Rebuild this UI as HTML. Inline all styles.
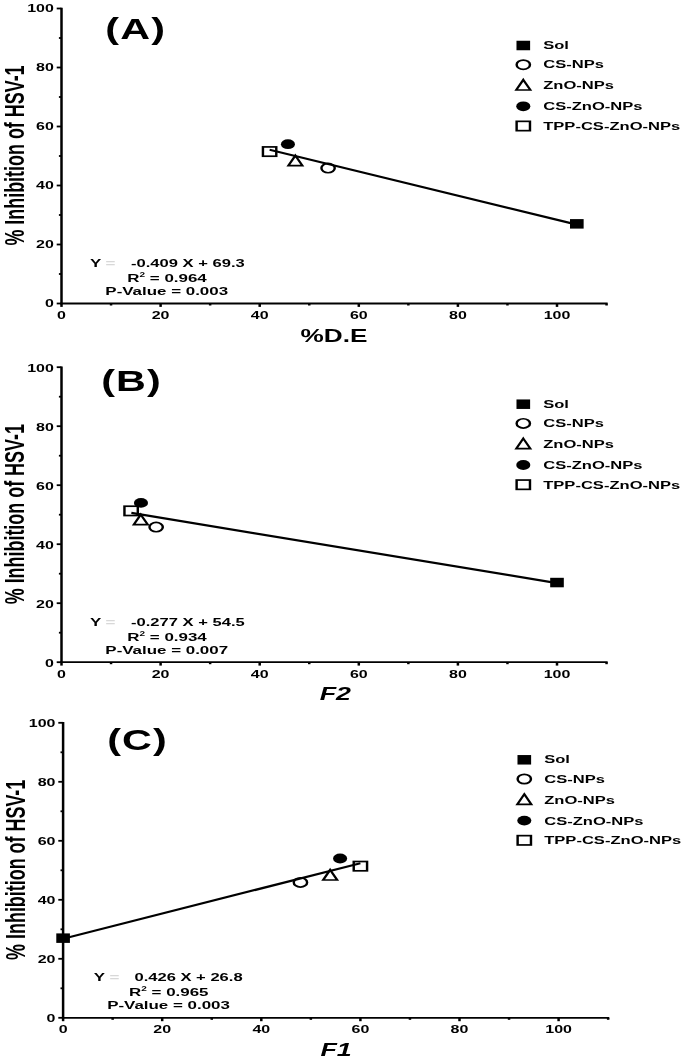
<!DOCTYPE html>
<html><head><meta charset="utf-8"><title>Figure</title>
<style>
html,body{margin:0;padding:0;background:#fff;}
body{width:685px;height:1060px;overflow:hidden;font-family:"Liberation Sans",sans-serif;}
svg{display:block;position:absolute;left:0;top:0;filter:blur(0.45px);}
</style></head>
<body>
<svg width="685" height="1060" viewBox="0 0 685 1060">
<rect width="685" height="1060" fill="#fff"/>
<line x1="61.50" y1="7.70" x2="61.50" y2="304.30" stroke="#000" stroke-width="2.5"/>
<line x1="60.40" y1="303.50" x2="607.65" y2="303.50" stroke="#000" stroke-width="1.8"/>
<line x1="56.70" y1="303.50" x2="61.50" y2="303.50" stroke="#000" stroke-width="1.8"/>
<text transform="translate(53.90,307.40) scale(1.435,1)" font-family="Liberation Sans, sans-serif" font-size="11.15" font-weight="bold" text-anchor="end" fill="#000" >0</text>
<line x1="58.90" y1="274.00" x2="61.50" y2="274.00" stroke="#000" stroke-width="1.8"/>
<line x1="56.70" y1="244.50" x2="61.50" y2="244.50" stroke="#000" stroke-width="1.8"/>
<text transform="translate(53.90,248.40) scale(1.435,1)" font-family="Liberation Sans, sans-serif" font-size="11.15" font-weight="bold" text-anchor="end" fill="#000" >20</text>
<line x1="58.90" y1="215.00" x2="61.50" y2="215.00" stroke="#000" stroke-width="1.8"/>
<line x1="56.70" y1="185.50" x2="61.50" y2="185.50" stroke="#000" stroke-width="1.8"/>
<text transform="translate(53.90,189.40) scale(1.435,1)" font-family="Liberation Sans, sans-serif" font-size="11.15" font-weight="bold" text-anchor="end" fill="#000" >40</text>
<line x1="58.90" y1="156.00" x2="61.50" y2="156.00" stroke="#000" stroke-width="1.8"/>
<line x1="56.70" y1="126.50" x2="61.50" y2="126.50" stroke="#000" stroke-width="1.8"/>
<text transform="translate(53.90,130.40) scale(1.435,1)" font-family="Liberation Sans, sans-serif" font-size="11.15" font-weight="bold" text-anchor="end" fill="#000" >60</text>
<line x1="58.90" y1="97.00" x2="61.50" y2="97.00" stroke="#000" stroke-width="1.8"/>
<line x1="56.70" y1="67.50" x2="61.50" y2="67.50" stroke="#000" stroke-width="1.8"/>
<text transform="translate(53.90,71.40) scale(1.435,1)" font-family="Liberation Sans, sans-serif" font-size="11.15" font-weight="bold" text-anchor="end" fill="#000" >80</text>
<line x1="58.90" y1="38.00" x2="61.50" y2="38.00" stroke="#000" stroke-width="1.8"/>
<line x1="56.70" y1="8.50" x2="61.50" y2="8.50" stroke="#000" stroke-width="1.8"/>
<text transform="translate(53.90,12.40) scale(1.435,1)" font-family="Liberation Sans, sans-serif" font-size="11.15" font-weight="bold" text-anchor="end" fill="#000" >100</text>
<line x1="61.50" y1="303.50" x2="61.50" y2="306.90" stroke="#000" stroke-width="2.5"/>
<text transform="translate(61.50,318.50) scale(1.435,1)" font-family="Liberation Sans, sans-serif" font-size="11.15" font-weight="bold" text-anchor="middle" fill="#000" >0</text>
<line x1="111.05" y1="303.50" x2="111.05" y2="305.50" stroke="#000" stroke-width="2.5"/>
<line x1="160.60" y1="303.50" x2="160.60" y2="306.90" stroke="#000" stroke-width="2.5"/>
<text transform="translate(160.60,318.50) scale(1.435,1)" font-family="Liberation Sans, sans-serif" font-size="11.15" font-weight="bold" text-anchor="middle" fill="#000" >20</text>
<line x1="210.15" y1="303.50" x2="210.15" y2="305.50" stroke="#000" stroke-width="2.5"/>
<line x1="259.70" y1="303.50" x2="259.70" y2="306.90" stroke="#000" stroke-width="2.5"/>
<text transform="translate(259.70,318.50) scale(1.435,1)" font-family="Liberation Sans, sans-serif" font-size="11.15" font-weight="bold" text-anchor="middle" fill="#000" >40</text>
<line x1="309.25" y1="303.50" x2="309.25" y2="305.50" stroke="#000" stroke-width="2.5"/>
<line x1="358.80" y1="303.50" x2="358.80" y2="306.90" stroke="#000" stroke-width="2.5"/>
<text transform="translate(358.80,318.50) scale(1.435,1)" font-family="Liberation Sans, sans-serif" font-size="11.15" font-weight="bold" text-anchor="middle" fill="#000" >60</text>
<line x1="408.35" y1="303.50" x2="408.35" y2="305.50" stroke="#000" stroke-width="2.5"/>
<line x1="457.90" y1="303.50" x2="457.90" y2="306.90" stroke="#000" stroke-width="2.5"/>
<text transform="translate(457.90,318.50) scale(1.435,1)" font-family="Liberation Sans, sans-serif" font-size="11.15" font-weight="bold" text-anchor="middle" fill="#000" >80</text>
<line x1="507.45" y1="303.50" x2="507.45" y2="305.50" stroke="#000" stroke-width="2.5"/>
<line x1="557.00" y1="303.50" x2="557.00" y2="306.90" stroke="#000" stroke-width="2.5"/>
<text transform="translate(557.00,318.50) scale(1.435,1)" font-family="Liberation Sans, sans-serif" font-size="11.15" font-weight="bold" text-anchor="middle" fill="#000" >100</text>
<line x1="606.55" y1="303.50" x2="606.55" y2="305.50" stroke="#000" stroke-width="2.5"/>
<text transform="translate(334.02,342.00) scale(1.435,1)" font-family="Liberation Sans, sans-serif" font-size="18.25" font-weight="bold" text-anchor="middle" fill="#000" >%D.E</text>
<text transform="translate(135.70,38.70) scale(1.435,1)" font-family="Liberation Sans, sans-serif" font-size="28.8" font-weight="bold" text-anchor="middle" fill="#000" letter-spacing="0.8">(A)</text>
<text transform="translate(24.30,155.50) scale(1.53,1) rotate(-90)" font-family="Liberation Sans, sans-serif" font-size="17.93" font-weight="bold" text-anchor="middle" fill="#000">% Inhibition of HSV-1</text>
<text transform="translate(90.00,266.90) scale(1.435,1)" font-family="Liberation Sans, sans-serif" font-size="11.8" font-weight="bold" text-anchor="start" fill="#000" >Y</text>
<text transform="translate(105.50,266.90) scale(1.435,1)" font-family="Liberation Sans, sans-serif" font-size="11.8" font-weight="bold" text-anchor="start" fill="#d8d8d8" >=</text>
<text transform="translate(244.70,266.90) scale(1.435,1)" font-family="Liberation Sans, sans-serif" font-size="11.55" font-weight="bold" text-anchor="end" fill="#000" >-0.409 X + 69.3</text>
<text transform="translate(167.00,281.50) scale(1.435,1)" font-family="Liberation Sans, sans-serif" font-size="11.8" font-weight="bold" text-anchor="middle" fill="#000" >R<tspan font-size="7.0" dy="-4.8">2</tspan><tspan dy="4.8"> = 0.964</tspan></text>
<text transform="translate(166.70,295.00) scale(1.435,1)" font-family="Liberation Sans, sans-serif" font-size="11.8" font-weight="bold" text-anchor="middle" fill="#000" >P-Value = 0.003</text>
<g transform="translate(523.30,45.50) scale(1.435,1)"><rect x="-4.75" y="-4.75" width="9.5" height="9.5" fill="#000"/></g>
<text transform="translate(543.20,48.80) scale(1.435,1)" font-family="Liberation Sans, sans-serif" font-size="11.55" font-weight="bold" text-anchor="start" fill="#000" >Sol</text>
<g transform="translate(523.30,64.70) scale(1.435,1)"><circle r="4.65" fill="#fff" stroke="#000" stroke-width="1.7"/></g>
<text transform="translate(543.20,68.40) scale(1.435,1)" font-family="Liberation Sans, sans-serif" font-size="11.55" font-weight="bold" text-anchor="start" fill="#000" >CS-NPs</text>
<g transform="translate(523.30,85.00) scale(1.435,1)"><path d="M0,-5.2 L4.9,5.0 L-4.9,5.0 Z" fill="#fff" stroke="#000" stroke-width="1.7" stroke-linejoin="miter"/></g>
<text transform="translate(543.20,89.30) scale(1.435,1)" font-family="Liberation Sans, sans-serif" font-size="11.55" font-weight="bold" text-anchor="start" fill="#000" >ZnO-NPs</text>
<g transform="translate(523.30,106.30) scale(1.435,1)"><circle r="4.9" fill="#000"/></g>
<text transform="translate(543.20,110.30) scale(1.435,1)" font-family="Liberation Sans, sans-serif" font-size="11.55" font-weight="bold" text-anchor="start" fill="#000" >CS-ZnO-NPs</text>
<g transform="translate(523.30,126.00) scale(1.435,1)"><rect x="-4.65" y="-4.65" width="9.3" height="9.3" fill="#fff" stroke="#000" stroke-width="1.7"/></g>
<text transform="translate(543.20,129.80) scale(1.435,1)" font-family="Liberation Sans, sans-serif" font-size="11.55" font-weight="bold" text-anchor="start" fill="#000" >TPP-CS-ZnO-NPs</text>
<g transform="translate(269.61,151.57) scale(1.435,1)"><rect x="-4.65" y="-4.65" width="9.3" height="9.3" fill="#fff" stroke="#000" stroke-width="1.7"/></g>
<g transform="translate(287.94,144.20) scale(1.435,1)"><circle r="4.9" fill="#000"/></g>
<g transform="translate(295.38,160.72) scale(1.435,1)"><path d="M0,-5.2 L4.9,5.0 L-4.9,5.0 Z" fill="#fff" stroke="#000" stroke-width="1.7" stroke-linejoin="miter"/></g>
<g transform="translate(328.08,168.09) scale(1.435,1)"><circle r="4.65" fill="#fff" stroke="#000" stroke-width="1.7"/></g>
<g transform="translate(576.82,223.85) scale(1.435,1)"><rect x="-4.75" y="-4.75" width="9.5" height="9.5" fill="#000"/></g>
<line x1="269.61" y1="149.80" x2="576.82" y2="224.56" stroke="#000" stroke-width="2.2" stroke-linecap="butt"/>
<line x1="61.50" y1="366.40" x2="61.50" y2="663.00" stroke="#000" stroke-width="2.5"/>
<line x1="60.40" y1="662.20" x2="607.65" y2="662.20" stroke="#000" stroke-width="1.8"/>
<line x1="56.70" y1="662.20" x2="61.50" y2="662.20" stroke="#000" stroke-width="1.8"/>
<text transform="translate(53.90,666.60) scale(1.435,1)" font-family="Liberation Sans, sans-serif" font-size="11.15" font-weight="bold" text-anchor="end" fill="#000" >0</text>
<line x1="58.90" y1="632.70" x2="61.50" y2="632.70" stroke="#000" stroke-width="1.8"/>
<line x1="56.70" y1="603.20" x2="61.50" y2="603.20" stroke="#000" stroke-width="1.8"/>
<text transform="translate(53.90,607.60) scale(1.435,1)" font-family="Liberation Sans, sans-serif" font-size="11.15" font-weight="bold" text-anchor="end" fill="#000" >20</text>
<line x1="58.90" y1="573.70" x2="61.50" y2="573.70" stroke="#000" stroke-width="1.8"/>
<line x1="56.70" y1="544.20" x2="61.50" y2="544.20" stroke="#000" stroke-width="1.8"/>
<text transform="translate(53.90,548.60) scale(1.435,1)" font-family="Liberation Sans, sans-serif" font-size="11.15" font-weight="bold" text-anchor="end" fill="#000" >40</text>
<line x1="58.90" y1="514.70" x2="61.50" y2="514.70" stroke="#000" stroke-width="1.8"/>
<line x1="56.70" y1="485.20" x2="61.50" y2="485.20" stroke="#000" stroke-width="1.8"/>
<text transform="translate(53.90,489.60) scale(1.435,1)" font-family="Liberation Sans, sans-serif" font-size="11.15" font-weight="bold" text-anchor="end" fill="#000" >60</text>
<line x1="58.90" y1="455.70" x2="61.50" y2="455.70" stroke="#000" stroke-width="1.8"/>
<line x1="56.70" y1="426.20" x2="61.50" y2="426.20" stroke="#000" stroke-width="1.8"/>
<text transform="translate(53.90,430.60) scale(1.435,1)" font-family="Liberation Sans, sans-serif" font-size="11.15" font-weight="bold" text-anchor="end" fill="#000" >80</text>
<line x1="58.90" y1="396.70" x2="61.50" y2="396.70" stroke="#000" stroke-width="1.8"/>
<line x1="56.70" y1="367.20" x2="61.50" y2="367.20" stroke="#000" stroke-width="1.8"/>
<text transform="translate(53.90,371.60) scale(1.435,1)" font-family="Liberation Sans, sans-serif" font-size="11.15" font-weight="bold" text-anchor="end" fill="#000" >100</text>
<line x1="61.50" y1="662.20" x2="61.50" y2="665.60" stroke="#000" stroke-width="2.5"/>
<text transform="translate(61.50,677.70) scale(1.435,1)" font-family="Liberation Sans, sans-serif" font-size="11.15" font-weight="bold" text-anchor="middle" fill="#000" >0</text>
<line x1="111.05" y1="662.20" x2="111.05" y2="664.20" stroke="#000" stroke-width="2.5"/>
<line x1="160.60" y1="662.20" x2="160.60" y2="665.60" stroke="#000" stroke-width="2.5"/>
<text transform="translate(160.60,677.70) scale(1.435,1)" font-family="Liberation Sans, sans-serif" font-size="11.15" font-weight="bold" text-anchor="middle" fill="#000" >20</text>
<line x1="210.15" y1="662.20" x2="210.15" y2="664.20" stroke="#000" stroke-width="2.5"/>
<line x1="259.70" y1="662.20" x2="259.70" y2="665.60" stroke="#000" stroke-width="2.5"/>
<text transform="translate(259.70,677.70) scale(1.435,1)" font-family="Liberation Sans, sans-serif" font-size="11.15" font-weight="bold" text-anchor="middle" fill="#000" >40</text>
<line x1="309.25" y1="662.20" x2="309.25" y2="664.20" stroke="#000" stroke-width="2.5"/>
<line x1="358.80" y1="662.20" x2="358.80" y2="665.60" stroke="#000" stroke-width="2.5"/>
<text transform="translate(358.80,677.70) scale(1.435,1)" font-family="Liberation Sans, sans-serif" font-size="11.15" font-weight="bold" text-anchor="middle" fill="#000" >60</text>
<line x1="408.35" y1="662.20" x2="408.35" y2="664.20" stroke="#000" stroke-width="2.5"/>
<line x1="457.90" y1="662.20" x2="457.90" y2="665.60" stroke="#000" stroke-width="2.5"/>
<text transform="translate(457.90,677.70) scale(1.435,1)" font-family="Liberation Sans, sans-serif" font-size="11.15" font-weight="bold" text-anchor="middle" fill="#000" >80</text>
<line x1="507.45" y1="662.20" x2="507.45" y2="664.20" stroke="#000" stroke-width="2.5"/>
<line x1="557.00" y1="662.20" x2="557.00" y2="665.60" stroke="#000" stroke-width="2.5"/>
<text transform="translate(557.00,677.70) scale(1.435,1)" font-family="Liberation Sans, sans-serif" font-size="11.15" font-weight="bold" text-anchor="middle" fill="#000" >100</text>
<line x1="606.55" y1="662.20" x2="606.55" y2="664.20" stroke="#000" stroke-width="2.5"/>
<text transform="translate(335.32,699.80) scale(1.435,1)" font-family="Liberation Sans, sans-serif" font-size="18.7" font-weight="bold" text-anchor="middle" fill="#000" font-style="italic">F2</text>
<text transform="translate(131.60,391.00) scale(1.435,1)" font-family="Liberation Sans, sans-serif" font-size="28.8" font-weight="bold" text-anchor="middle" fill="#000" letter-spacing="0.8">(B)</text>
<text transform="translate(24.30,514.20) scale(1.53,1) rotate(-90)" font-family="Liberation Sans, sans-serif" font-size="17.93" font-weight="bold" text-anchor="middle" fill="#000">% Inhibition of HSV-1</text>
<text transform="translate(90.00,626.10) scale(1.435,1)" font-family="Liberation Sans, sans-serif" font-size="11.8" font-weight="bold" text-anchor="start" fill="#000" >Y</text>
<text transform="translate(105.50,626.10) scale(1.435,1)" font-family="Liberation Sans, sans-serif" font-size="11.8" font-weight="bold" text-anchor="start" fill="#d8d8d8" >=</text>
<text transform="translate(244.70,626.10) scale(1.435,1)" font-family="Liberation Sans, sans-serif" font-size="11.55" font-weight="bold" text-anchor="end" fill="#000" >-0.277 X + 54.5</text>
<text transform="translate(167.00,640.70) scale(1.435,1)" font-family="Liberation Sans, sans-serif" font-size="11.8" font-weight="bold" text-anchor="middle" fill="#000" >R<tspan font-size="7.0" dy="-4.8">2</tspan><tspan dy="4.8"> = 0.934</tspan></text>
<text transform="translate(166.70,654.20) scale(1.435,1)" font-family="Liberation Sans, sans-serif" font-size="11.8" font-weight="bold" text-anchor="middle" fill="#000" >P-Value = 0.007</text>
<g transform="translate(523.30,404.20) scale(1.435,1)"><rect x="-4.75" y="-4.75" width="9.5" height="9.5" fill="#000"/></g>
<text transform="translate(543.20,407.50) scale(1.435,1)" font-family="Liberation Sans, sans-serif" font-size="11.55" font-weight="bold" text-anchor="start" fill="#000" >Sol</text>
<g transform="translate(523.30,423.40) scale(1.435,1)"><circle r="4.65" fill="#fff" stroke="#000" stroke-width="1.7"/></g>
<text transform="translate(543.20,427.10) scale(1.435,1)" font-family="Liberation Sans, sans-serif" font-size="11.55" font-weight="bold" text-anchor="start" fill="#000" >CS-NPs</text>
<g transform="translate(523.30,443.70) scale(1.435,1)"><path d="M0,-5.2 L4.9,5.0 L-4.9,5.0 Z" fill="#fff" stroke="#000" stroke-width="1.7" stroke-linejoin="miter"/></g>
<text transform="translate(543.20,448.00) scale(1.435,1)" font-family="Liberation Sans, sans-serif" font-size="11.55" font-weight="bold" text-anchor="start" fill="#000" >ZnO-NPs</text>
<g transform="translate(523.30,465.00) scale(1.435,1)"><circle r="4.9" fill="#000"/></g>
<text transform="translate(543.20,469.00) scale(1.435,1)" font-family="Liberation Sans, sans-serif" font-size="11.55" font-weight="bold" text-anchor="start" fill="#000" >CS-ZnO-NPs</text>
<g transform="translate(523.30,484.70) scale(1.435,1)"><rect x="-4.65" y="-4.65" width="9.3" height="9.3" fill="#fff" stroke="#000" stroke-width="1.7"/></g>
<text transform="translate(543.20,488.50) scale(1.435,1)" font-family="Liberation Sans, sans-serif" font-size="11.55" font-weight="bold" text-anchor="start" fill="#000" >TPP-CS-ZnO-NPs</text>
<g transform="translate(131.12,510.87) scale(1.435,1)"><rect x="-4.65" y="-4.65" width="9.3" height="9.3" fill="#fff" stroke="#000" stroke-width="1.7"/></g>
<g transform="translate(140.98,502.90) scale(1.435,1)"><circle r="4.9" fill="#000"/></g>
<g transform="translate(140.78,519.72) scale(1.435,1)"><path d="M0,-5.2 L4.9,5.0 L-4.9,5.0 Z" fill="#fff" stroke="#000" stroke-width="1.7" stroke-linejoin="miter"/></g>
<g transform="translate(156.14,527.09) scale(1.435,1)"><circle r="4.65" fill="#fff" stroke="#000" stroke-width="1.7"/></g>
<g transform="translate(557.00,582.55) scale(1.435,1)"><rect x="-4.75" y="-4.75" width="9.5" height="9.5" fill="#000"/></g>
<line x1="131.37" y1="512.93" x2="557.00" y2="583.14" stroke="#000" stroke-width="2.2" stroke-linecap="butt"/>
<line x1="63.10" y1="722.00" x2="63.10" y2="1018.60" stroke="#000" stroke-width="2.5"/>
<line x1="62.00" y1="1017.80" x2="609.25" y2="1017.80" stroke="#000" stroke-width="1.8"/>
<line x1="58.30" y1="1017.80" x2="63.10" y2="1017.80" stroke="#000" stroke-width="1.8"/>
<text transform="translate(55.50,1021.70) scale(1.435,1)" font-family="Liberation Sans, sans-serif" font-size="11.15" font-weight="bold" text-anchor="end" fill="#000" >0</text>
<line x1="60.50" y1="988.30" x2="63.10" y2="988.30" stroke="#000" stroke-width="1.8"/>
<line x1="58.30" y1="958.80" x2="63.10" y2="958.80" stroke="#000" stroke-width="1.8"/>
<text transform="translate(55.50,962.70) scale(1.435,1)" font-family="Liberation Sans, sans-serif" font-size="11.15" font-weight="bold" text-anchor="end" fill="#000" >20</text>
<line x1="60.50" y1="929.30" x2="63.10" y2="929.30" stroke="#000" stroke-width="1.8"/>
<line x1="58.30" y1="899.80" x2="63.10" y2="899.80" stroke="#000" stroke-width="1.8"/>
<text transform="translate(55.50,903.70) scale(1.435,1)" font-family="Liberation Sans, sans-serif" font-size="11.15" font-weight="bold" text-anchor="end" fill="#000" >40</text>
<line x1="60.50" y1="870.30" x2="63.10" y2="870.30" stroke="#000" stroke-width="1.8"/>
<line x1="58.30" y1="840.80" x2="63.10" y2="840.80" stroke="#000" stroke-width="1.8"/>
<text transform="translate(55.50,844.70) scale(1.435,1)" font-family="Liberation Sans, sans-serif" font-size="11.15" font-weight="bold" text-anchor="end" fill="#000" >60</text>
<line x1="60.50" y1="811.30" x2="63.10" y2="811.30" stroke="#000" stroke-width="1.8"/>
<line x1="58.30" y1="781.80" x2="63.10" y2="781.80" stroke="#000" stroke-width="1.8"/>
<text transform="translate(55.50,785.70) scale(1.435,1)" font-family="Liberation Sans, sans-serif" font-size="11.15" font-weight="bold" text-anchor="end" fill="#000" >80</text>
<line x1="60.50" y1="752.30" x2="63.10" y2="752.30" stroke="#000" stroke-width="1.8"/>
<line x1="58.30" y1="722.80" x2="63.10" y2="722.80" stroke="#000" stroke-width="1.8"/>
<text transform="translate(55.50,726.70) scale(1.435,1)" font-family="Liberation Sans, sans-serif" font-size="11.15" font-weight="bold" text-anchor="end" fill="#000" >100</text>
<line x1="63.10" y1="1017.80" x2="63.10" y2="1021.20" stroke="#000" stroke-width="2.5"/>
<text transform="translate(63.10,1032.80) scale(1.435,1)" font-family="Liberation Sans, sans-serif" font-size="11.15" font-weight="bold" text-anchor="middle" fill="#000" >0</text>
<line x1="112.65" y1="1017.80" x2="112.65" y2="1019.80" stroke="#000" stroke-width="2.5"/>
<line x1="162.20" y1="1017.80" x2="162.20" y2="1021.20" stroke="#000" stroke-width="2.5"/>
<text transform="translate(162.20,1032.80) scale(1.435,1)" font-family="Liberation Sans, sans-serif" font-size="11.15" font-weight="bold" text-anchor="middle" fill="#000" >20</text>
<line x1="211.75" y1="1017.80" x2="211.75" y2="1019.80" stroke="#000" stroke-width="2.5"/>
<line x1="261.30" y1="1017.80" x2="261.30" y2="1021.20" stroke="#000" stroke-width="2.5"/>
<text transform="translate(261.30,1032.80) scale(1.435,1)" font-family="Liberation Sans, sans-serif" font-size="11.15" font-weight="bold" text-anchor="middle" fill="#000" >40</text>
<line x1="310.85" y1="1017.80" x2="310.85" y2="1019.80" stroke="#000" stroke-width="2.5"/>
<line x1="360.40" y1="1017.80" x2="360.40" y2="1021.20" stroke="#000" stroke-width="2.5"/>
<text transform="translate(360.40,1032.80) scale(1.435,1)" font-family="Liberation Sans, sans-serif" font-size="11.15" font-weight="bold" text-anchor="middle" fill="#000" >60</text>
<line x1="409.95" y1="1017.80" x2="409.95" y2="1019.80" stroke="#000" stroke-width="2.5"/>
<line x1="459.50" y1="1017.80" x2="459.50" y2="1021.20" stroke="#000" stroke-width="2.5"/>
<text transform="translate(459.50,1032.80) scale(1.435,1)" font-family="Liberation Sans, sans-serif" font-size="11.15" font-weight="bold" text-anchor="middle" fill="#000" >80</text>
<line x1="509.05" y1="1017.80" x2="509.05" y2="1019.80" stroke="#000" stroke-width="2.5"/>
<line x1="558.60" y1="1017.80" x2="558.60" y2="1021.20" stroke="#000" stroke-width="2.5"/>
<text transform="translate(558.60,1032.80) scale(1.435,1)" font-family="Liberation Sans, sans-serif" font-size="11.15" font-weight="bold" text-anchor="middle" fill="#000" >100</text>
<line x1="608.15" y1="1017.80" x2="608.15" y2="1019.80" stroke="#000" stroke-width="2.5"/>
<text transform="translate(336.12,1055.80) scale(1.435,1)" font-family="Liberation Sans, sans-serif" font-size="18.7" font-weight="bold" text-anchor="middle" fill="#000" font-style="italic">F1</text>
<text transform="translate(137.60,750.00) scale(1.435,1)" font-family="Liberation Sans, sans-serif" font-size="28.8" font-weight="bold" text-anchor="middle" fill="#000" letter-spacing="0.8">(C)</text>
<text transform="translate(24.90,869.80) scale(1.53,1) rotate(-90)" font-family="Liberation Sans, sans-serif" font-size="17.93" font-weight="bold" text-anchor="middle" fill="#000">% Inhibition of HSV-1</text>
<text transform="translate(93.70,981.20) scale(1.435,1)" font-family="Liberation Sans, sans-serif" font-size="11.8" font-weight="bold" text-anchor="start" fill="#000" >Y</text>
<text transform="translate(109.60,981.20) scale(1.435,1)" font-family="Liberation Sans, sans-serif" font-size="11.8" font-weight="bold" text-anchor="start" fill="#d8d8d8" >=</text>
<text transform="translate(242.60,981.20) scale(1.435,1)" font-family="Liberation Sans, sans-serif" font-size="11.55" font-weight="bold" text-anchor="end" fill="#000" >0.426 X + 26.8</text>
<text transform="translate(168.80,995.80) scale(1.435,1)" font-family="Liberation Sans, sans-serif" font-size="11.8" font-weight="bold" text-anchor="middle" fill="#000" >R<tspan font-size="7.0" dy="-4.8">2</tspan><tspan dy="4.8"> = 0.965</tspan></text>
<text transform="translate(168.50,1009.30) scale(1.435,1)" font-family="Liberation Sans, sans-serif" font-size="11.8" font-weight="bold" text-anchor="middle" fill="#000" >P-Value = 0.003</text>
<g transform="translate(524.30,759.80) scale(1.435,1)"><rect x="-4.75" y="-4.75" width="9.5" height="9.5" fill="#000"/></g>
<text transform="translate(544.20,763.10) scale(1.435,1)" font-family="Liberation Sans, sans-serif" font-size="11.55" font-weight="bold" text-anchor="start" fill="#000" >Sol</text>
<g transform="translate(524.30,779.00) scale(1.435,1)"><circle r="4.65" fill="#fff" stroke="#000" stroke-width="1.7"/></g>
<text transform="translate(544.20,782.70) scale(1.435,1)" font-family="Liberation Sans, sans-serif" font-size="11.55" font-weight="bold" text-anchor="start" fill="#000" >CS-NPs</text>
<g transform="translate(524.30,799.30) scale(1.435,1)"><path d="M0,-5.2 L4.9,5.0 L-4.9,5.0 Z" fill="#fff" stroke="#000" stroke-width="1.7" stroke-linejoin="miter"/></g>
<text transform="translate(544.20,803.60) scale(1.435,1)" font-family="Liberation Sans, sans-serif" font-size="11.55" font-weight="bold" text-anchor="start" fill="#000" >ZnO-NPs</text>
<g transform="translate(524.30,820.60) scale(1.435,1)"><circle r="4.9" fill="#000"/></g>
<text transform="translate(544.20,824.60) scale(1.435,1)" font-family="Liberation Sans, sans-serif" font-size="11.55" font-weight="bold" text-anchor="start" fill="#000" >CS-ZnO-NPs</text>
<g transform="translate(524.30,840.30) scale(1.435,1)"><rect x="-4.65" y="-4.65" width="9.3" height="9.3" fill="#fff" stroke="#000" stroke-width="1.7"/></g>
<text transform="translate(544.20,844.10) scale(1.435,1)" font-family="Liberation Sans, sans-serif" font-size="11.55" font-weight="bold" text-anchor="start" fill="#000" >TPP-CS-ZnO-NPs</text>
<g transform="translate(360.40,866.17) scale(1.435,1)"><rect x="-4.65" y="-4.65" width="9.3" height="9.3" fill="#fff" stroke="#000" stroke-width="1.7"/></g>
<g transform="translate(340.08,858.50) scale(1.435,1)"><circle r="4.9" fill="#000"/></g>
<g transform="translate(330.17,875.02) scale(1.435,1)"><path d="M0,-5.2 L4.9,5.0 L-4.9,5.0 Z" fill="#fff" stroke="#000" stroke-width="1.7" stroke-linejoin="miter"/></g>
<g transform="translate(300.44,882.39) scale(1.435,1)"><circle r="4.65" fill="#fff" stroke="#000" stroke-width="1.7"/></g>
<g transform="translate(63.10,938.15) scale(1.435,1)"><rect x="-4.75" y="-4.75" width="9.5" height="9.5" fill="#000"/></g>
<line x1="63.10" y1="938.74" x2="360.40" y2="863.22" stroke="#000" stroke-width="2.2" stroke-linecap="butt"/>
</svg>
</body></html>
